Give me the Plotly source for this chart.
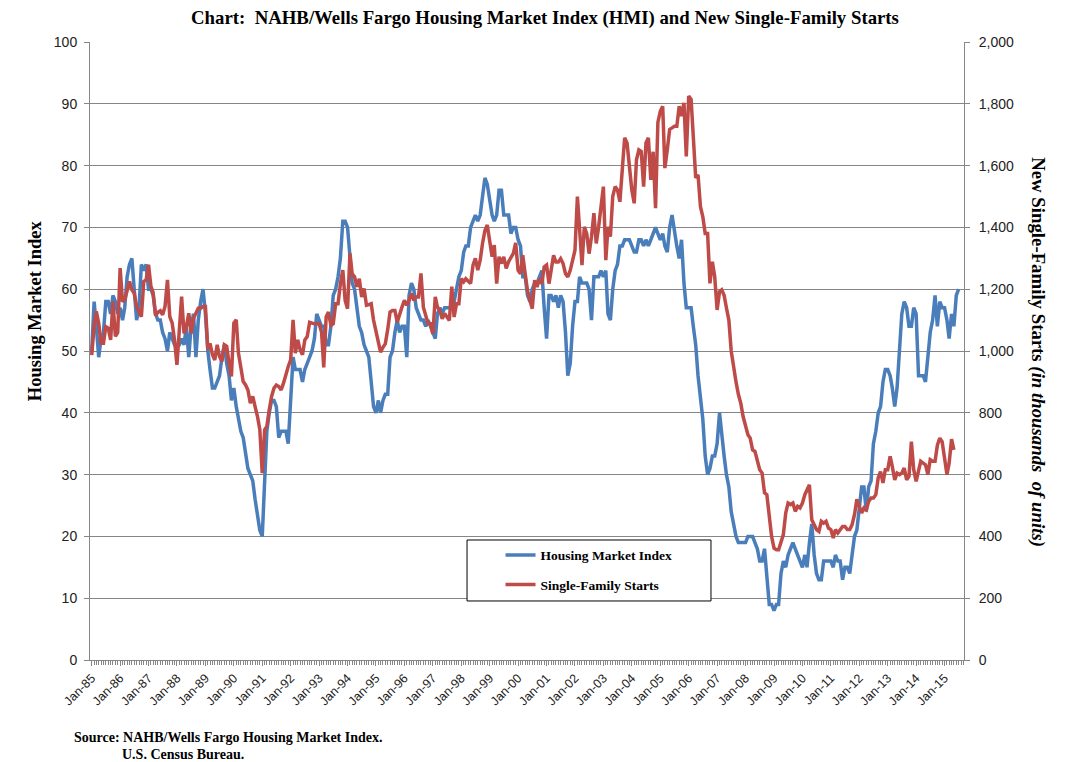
import pandas as pd
import plotly.graph_objects as go

# NAHB/Wells Fargo HMI, monthly from Jan-85
hmi = [
    50, 58, 54, 49, 52, 53, 58, 58, 56, 59, 58, 56,   # 1985
    57, 55, 57, 62, 64, 65, 60, 55, 57, 64, 63, 64,   # 1986
    60, 60, 59, 56, 55, 55, 53, 52, 50, 53, 52, 51,   # 1987
    51, 51, 52, 51, 54, 49, 54, 56, 49, 55, 58, 60,   # 1988
    56, 50, 47, 44, 44, 45, 46, 49, 51, 48, 46, 42,   # 1989
    44, 41, 39, 37, 36, 33, 31, 30, 29, 26, 23, 21,   # 1990
    20, 28, 37, 40, 42, 42, 41, 36, 37, 37, 37, 35,   # 1991
    42, 49, 47, 47, 47, 45, 47, 48, 49, 50, 52, 56,   # 1992
    55, 54, 54, 51, 51, 54, 59, 60, 62, 65, 71, 71,   # 1993
    70, 65, 61, 60, 57, 54, 53, 51, 50, 49, 45, 41,   # 1994
    40, 42, 40, 42, 43, 43, 49, 50, 53, 55, 53, 54,   # 1995
    54, 49, 59, 61, 60, 57, 56, 55, 55, 54, 55, 54,   # 1996
    53, 52, 56, 57, 56, 57, 57, 57, 57, 58, 60, 62,   # 1997
    63, 66, 67, 67, 70, 71, 72, 71, 72, 75, 78, 77,   # 1998
    74, 72, 71, 72, 76, 76, 72, 72, 72, 69, 70, 70,   # 1999
    68, 67, 62, 62, 59, 58, 60, 61, 61, 62, 63, 57,   # 2000
    52, 59, 59, 58, 59, 57, 59, 58, 53, 46, 48, 54,   # 2001
    58, 58, 62, 61, 61, 61, 60, 55, 62, 62, 62, 63,   # 2002
    62, 63, 56, 55, 60, 63, 64, 67, 67, 68, 68, 68,   # 2003
    67, 66, 66, 68, 68, 67, 68, 67, 68, 69, 70, 69,   # 2004
    68, 69, 67, 66, 70, 72, 69, 67, 65, 68, 61, 57,   # 2005
    57, 57, 54, 51, 46, 42, 39, 33, 30, 31, 33, 33,   # 2006
    35, 40, 36, 33, 30, 28, 24, 22, 20, 19, 19, 19,   # 2007
    19, 20, 20, 20, 19, 18, 16, 16, 18, 14, 9, 9,     # 2008
    8, 9, 9, 14, 16, 15, 17, 18, 19, 18, 17, 16,      # 2009
    15, 17, 15, 19, 22, 17, 14, 13, 13, 16, 16, 16,   # 2010
    16, 15, 17, 16, 16, 13, 15, 15, 14, 17, 20, 21,   # 2011
    25, 28, 28, 24, 28, 29, 35, 37, 40, 41, 45, 47,   # 2012
    47, 46, 44, 41, 44, 51, 56, 58, 57, 54, 54, 57,   # 2013
    56, 46, 46, 46, 45, 49, 53, 55, 59, 54, 58, 57,   # 2014
    57, 55, 52, 56, 54, 59, 60,                       # 2015
]

# single-family starts, thousands of units (SAAR), monthly from Jan-85
starts = [
    987, 1080, 1128, 1090, 1025, 1025, 1079, 1074, 1036, 1160, 1047, 1060,    # 1985
    1268, 1160, 1165, 1198, 1225, 1198, 1187, 1144, 1128, 1111, 1225, 1230,   # 1986
    1279, 1209, 1190, 1115, 1125, 1130, 1117, 1144, 1230, 1111, 1090, 1036,   # 1987
    955, 1074, 1176, 1057, 1079, 1122, 1057, 1106, 1122, 1138, 1138, 1144,    # 1988
    1144, 1004, 1025, 988, 971, 1020, 982, 966, 1020, 1015, 960, 918,         # 1989
    1090, 1101, 993, 939, 901, 890, 874, 831, 853, 820, 788, 745,             # 1990
    605, 745, 756, 810, 853, 880, 890, 885, 874, 896, 928, 950,               # 1991
    971, 1101, 993, 1036, 1004, 988, 1036, 1047, 1093, 1090, 1088, 1088,      # 1992
    1088, 1061, 947, 1110, 1126, 1083, 1088, 1153, 1153, 1218, 1262, 1164,    # 1993
    1137, 1316, 1250, 1240, 1208, 1234, 1175, 1202, 1148, 1150, 1153, 1100,   # 1994
    1066, 1039, 996, 1012, 1023, 1070, 1126, 1131, 1131, 1093, 1121, 1142,    # 1995
    1164, 1148, 1164, 1186, 1164, 1175, 1175, 1251, 1142, 1115, 1088, 1088,   # 1996
    1055, 1175, 1142, 1131, 1104, 1121, 1110, 1099, 1208, 1110, 1153, 1153,   # 1997
    1234, 1224, 1234, 1224, 1218, 1278, 1300, 1262, 1294, 1348, 1390, 1408,   # 1998
    1359, 1305, 1343, 1218, 1305, 1283, 1305, 1267, 1289, 1305, 1316, 1350,   # 1999
    1261, 1250, 1310, 1250, 1196, 1164, 1137, 1229, 1207, 1234, 1218, 1272,   # 2000
    1278, 1218, 1260, 1310, 1288, 1288, 1299, 1283, 1250, 1240, 1261, 1294,   # 2001
    1326, 1500, 1391, 1278, 1402, 1380, 1315, 1370, 1446, 1348, 1402, 1456,   # 2002
    1532, 1294, 1402, 1370, 1500, 1532, 1521, 1483, 1576, 1690, 1673, 1598,   # 2003
    1521, 1478, 1619, 1651, 1646, 1532, 1673, 1690, 1554, 1645, 1462, 1740,   # 2004
    1776, 1792, 1592, 1651, 1717, 1722, 1727, 1727, 1792, 1760, 1803, 1630,   # 2005
    1825, 1814, 1700, 1560, 1570, 1467, 1435, 1380, 1380, 1219, 1289, 1241,   # 2006
    1133, 1192, 1198, 1180, 1139, 1100, 1000, 940, 900, 860, 831, 788,        # 2007
    756, 729, 718, 680, 675, 648, 616, 605, 541, 535, 465, 400,               # 2008
    362, 357, 357, 384, 406, 476, 508, 503, 508, 481, 497, 492,               # 2009
    508, 535, 551, 567, 454, 438, 422, 416, 449, 443, 449, 427,               # 2010
    422, 395, 422, 411, 420, 432, 432, 422, 422, 438, 470, 520,               # 2011
    497, 476, 492, 486, 513, 524, 524, 535, 590, 610, 573, 616,               # 2012
    616, 659, 626, 583, 605, 600, 605, 621, 583, 594, 707, 616,               # 2013
    578, 610, 643, 637, 632, 600, 648, 643, 643, 695, 718, 707,               # 2014
    659, 600, 637, 715, 680,                                                  # 2015
]

hmi_months = pd.date_range("1985-01-01", periods=len(hmi), freq="MS")
starts_months = pd.date_range("1985-01-01", periods=len(starts), freq="MS")

BLUE = "#4A7EBB"
RED = "#BE4B48"
GRID = "#868686"
SERIF = "Liberation Serif"
SANS = "Liberation Sans"

fig = go.Figure()
fig.add_trace(go.Scatter(
    x=hmi_months, y=hmi, mode="lines", name="<b>Housing Market Index</b>",
    line=dict(color=BLUE, width=3.5), legendgroup="hmi",
))
fig.add_trace(go.Scatter(
    x=starts_months, y=starts, mode="lines", name="<b>Single-Family Starts</b>",
    line=dict(color=RED, width=3.5), legendgroup="starts", yaxis="y2",
))

fig.update_layout(
    width=1068, height=762,
    margin=dict(l=90, r=104, t=42, b=102),
    paper_bgcolor="white", plot_bgcolor="white",
    font=dict(family=SANS, color="#222"),
    showlegend=True,
    legend=dict(
        x=0.4697, y=0.1945, xanchor="left", yanchor="top",
        bgcolor="rgba(0,0,0,0)", borderwidth=0,
        font=dict(family=SERIF, size=13.5, color="black"),
        tracegroupgap=9,
    ),
    xaxis=dict(
        type="date",
        range=["1984-12-10", "2015-09-08"],
        tick0="1985-01-01", dtick="M12", tickformat="%b-%y",
        tickangle=-45, tickfont=dict(size=12.5, color="#222"),
        ticks="outside", ticklen=5, tickcolor=GRID,
        minor=dict(ticks="outside", ticklen=4, dtick="M1", tick0="1985-01-01",
                   tickcolor=GRID, showgrid=False),
        showline=True, linecolor=GRID, linewidth=1,
        showgrid=False, zeroline=False,
    ),
    yaxis=dict(
        range=[0, 100], dtick=10,
        showgrid=True, gridcolor=GRID, gridwidth=1,
        showline=True, linecolor=GRID, linewidth=1,
        ticks="outside", ticklen=5, tickcolor=GRID,
        ticklabelstandoff=4,
        tickfont=dict(size=14, color="#222"), zeroline=False,
    ),
    yaxis2=dict(
        overlaying="y", side="right",
        range=[0, 2000], dtick=200, tickformat=",",
        showgrid=False, showline=True, linecolor=GRID, linewidth=1,
        ticks="outside", ticklen=5, tickcolor=GRID,
        ticklabelstandoff=6,
        tickfont=dict(size=14, color="#222"), zeroline=False,
    ),
)

# legend frame
fig.add_shape(type="rect", xref="paper", yref="paper",
              x0=0.4314, x1=0.7105, y0=0.0955, y1=0.1942,
              line=dict(color="black", width=1), fillcolor="white", layer="above")

fig.add_annotation(
    text="<b>Chart:&nbsp; NAHB/Wells Fargo Housing Market Index (HMI) and New Single-Family Starts</b>",
    xref="paper", yref="paper", x=0.5206, y=1.060, showarrow=False,
    font=dict(family=SERIF, size=18.8, color="black"),
)
fig.add_annotation(
    text="<b>Housing Market Index</b>", textangle=-90,
    xref="paper", yref="paper", x=-0.0767, y=0.566, showarrow=False,
    font=dict(family=SERIF, size=18.5, color="black"),
)
fig.add_annotation(
    text="<b>New Single-Family Starts <i>(in thousands&nbsp; of units)</i></b>", textangle=90,
    xref="paper", yref="paper", x=1.0996, y=0.498, showarrow=False,
    font=dict(family=SERIF, size=18.8, color="black"),
)
fig.add_annotation(
    text="<b>Source: NAHB/Wells Fargo Housing Market Index.</b>",
    xref="paper", yref="paper", x=-0.0206, y=-0.1408, xanchor="left", showarrow=False,
    font=dict(family=SERIF, size=14, color="black"),
)
fig.add_annotation(
    text="<b>U.S. Census Bureau.</b>",
    xref="paper", yref="paper", x=0.0343, y=-0.168, xanchor="left", showarrow=False,
    font=dict(family=SERIF, size=14, color="black"),
)

# drop the default page margin so the figure sits at the window origin
fig.write_html("out.html", config={"displayModeBar": False},
               post_script="document.body.style.margin='0';")
